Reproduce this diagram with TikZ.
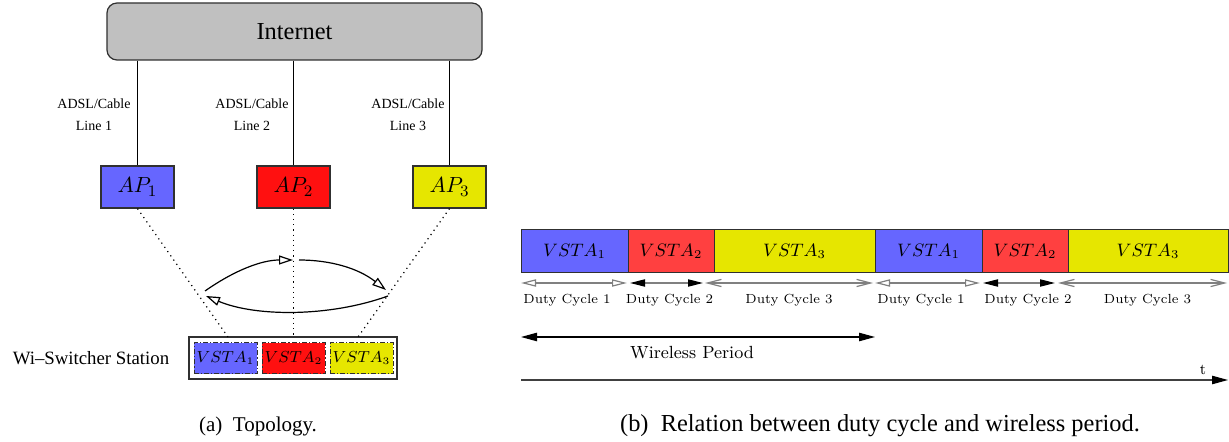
\documentclass[tikz,border=0pt]{standalone}
\usepackage{fontspec}
\newfontfamily\tms{Liberation Serif}
\usetikzlibrary{arrows.meta}
\definecolor{cblue}{HTML}{6666FF}
\definecolor{cred}{HTML}{FF1010}
\definecolor{credb}{HTML}{FF4040}
\definecolor{cyel}{HTML}{E6E600}
\definecolor{cgray}{HTML}{C0C0C0}
\definecolor{edge}{HTML}{303030}
\tikzset{
  otri/.tip={Triangle[open,length=7.5pt,width=3.6pt,fill=white]},
  ftri/.tip={Triangle[length=7.5pt,width=3.6pt,color=black]},
  barb/.tip={Straight Barb[length=7pt,width=3.6pt]},
  btri/.tip={Triangle[length=8pt,width=4.2pt,color=black]},
}
\begin{document}
\begin{tikzpicture}[x=0.5pt,y=-0.5pt,
  box/.style={draw=edge,line width=0.6pt,inner sep=0pt,minimum width=36.5pt,minimum height=21pt,font=\fontsize{11}{13}\selectfont},
  vbox/.style={draw=edge,line width=0.5pt,dash pattern=on 2.5pt off 1pt on 0.6pt off 1pt,inner sep=0pt,minimum width=31.5pt,minimum height=15.5pt,font=\fontsize{7.8}{9}\selectfont},
  seg/.style={draw=edge,line width=0.5pt,inner sep=0pt,outer sep=0pt,minimum height=21.5pt,font=\fontsize{9}{10}\selectfont},
  adsl/.style={align=center,font=\tms\fontsize{7}{11}\selectfont},
  duty/.style={font=\fontsize{6.6}{8}\selectfont\addfontfeatures{LetterSpace=8}},
  dline/.style={draw=gray,line width=0.6pt},
  arc/.style={line width=0.6pt,-{Triangle[open,length=7pt,width=4.5pt]}},
]
\useasboundingbox (0,0) rectangle (1229,442);

% Internet
\node[draw=edge,line width=0.6pt,fill=cgray,rounded corners=5pt,minimum width=187.5pt,minimum height=28.5pt,inner sep=0pt,font=\tms\fontsize{12.2}{14}\selectfont] (inet) at (294.5,31.5) {Internet};

% APs
\node[box,fill=cblue] (ap1) at (137.5,187) {$AP_1$};
\node[box,fill=cred]  (ap2) at (293.5,187) {$AP_2$};
\node[box,fill=cyel]  (ap3) at (449.5,187) {$AP_3$};

\draw[line width=0.6pt] (ap1.north |- inet.south) -- (ap1.north);
\draw[line width=0.6pt] (ap2.north |- inet.south) -- (ap2.north);
\draw[line width=0.6pt] (ap3.north |- inet.south) -- (ap3.north);

\node[adsl] (l1) at (94,115) {ADSL/Cable\\Line 1};
\node[adsl] (l2) at (252,115) {ADSL/Cable\\Line 2};
\node[adsl] (l3) at (408,115) {ADSL/Cable\\Line 3};

% Station
\node[draw=edge,line width=0.6pt,minimum width=104pt,minimum height=21pt,inner sep=0pt] (st) at (293,358) {};
\node[vbox,fill=cblue] (v1) at (225.5,358.5) {$VSTA_1$};
\node[vbox,fill=cred]  (v2) at (293.5,358.5) {$VSTA_2$};
\node[vbox,fill=cyel]  (v3) at (361.5,358.5) {$VSTA_3$};
\node[font=\tms\fontsize{9.4}{11}\selectfont] (stl) at (91,358) {Wi–Switcher Station};

\coordinate (s1) at (228,337);
\coordinate (s3) at (358,337);
\draw[dotted,line width=0.6pt] (ap1.south) -- (s1);
\draw[dotted,line width=0.6pt] (ap2.south) -- (ap2.south |- st.north);
\draw[dotted,line width=0.6pt] (ap3.south) -- (s3);

% arcs
\coordinate (a1) at (205,291);
\coordinate (a2) at (293,260);
\coordinate (a3) at (299,260);
\coordinate (a4) at (386,290);
\coordinate (a5) at (388,296);
\coordinate (a6) at (206,296);
\draw[arc] (a1) .. controls (235,270) and (262,260) .. (a2);
\draw[arc] (a3) .. controls (330,260) and (358,268) .. (a4);
\draw[arc] (a5) .. controls (330,317) and (256,317) .. (a6);

\node[font=\tms\fontsize{10.5}{12}\selectfont] (capa) at (258,426) {(a)\ \ Topology.};

% timeline bar
\node[seg,fill=cblue,minimum width=53.5pt,anchor=west] (b1) at (521,251.5) {$VSTA_1$};
\node[seg,fill=credb,minimum width=43pt,anchor=west] (b2) at (b1.east) {$VSTA_2$};
\node[seg,fill=cyel,minimum width=80.5pt,anchor=west] (b3) at (b2.east) {$VSTA_3$};
\node[seg,fill=cblue,minimum width=53.5pt,anchor=west] (b4) at (b3.east) {$VSTA_1$};
\node[seg,fill=credb,minimum width=43pt,anchor=west] (b5) at (b4.east) {$VSTA_2$};
\node[seg,fill=cyel,minimum width=80pt,anchor=west] (b6) at (b5.east) {$VSTA_3$};

% duty cycle arrows
\coordinate (d1a) at (521,283); \coordinate (d1b) at (627,283);
\coordinate (d2a) at (630,283); \coordinate (d2b) at (703,283);
\coordinate (d3a) at (705,283); \coordinate (d3b) at (873,283);
\coordinate (e1a) at (875,283); \coordinate (e1b) at (980,283);
\coordinate (e2a) at (983,283); \coordinate (e2b) at (1055,283);
\coordinate (e3a) at (1058,283); \coordinate (e3b) at (1227,283);
\begin{scope}[dline]
\draw[otri-otri] (d1a) -- (d1b);
\draw[ftri-ftri] (d2a) -- (d2b);
\draw[barb-barb] (d3a) -- (d3b);
\draw[otri-otri] (e1a) -- (e1b);
\draw[ftri-ftri] (e2a) -- (e2b);
\draw[barb-barb] (e3a) -- (e3b);
\end{scope}
\node[duty] (t1) at (567,300) {Duty Cycle 1};
\node[duty] (t2) at (669.5,300) {Duty Cycle 2};
\node[duty] (t3) at (789,300) {Duty Cycle 3};
\node[duty] (t4) at (921,300) {Duty Cycle 1};
\node[duty] (t5) at (1028,300) {Duty Cycle 2};
\node[duty] (t6) at (1147.5,300) {Duty Cycle 3};

% wireless period
\coordinate (w1) at (521,337); \coordinate (w2) at (875,337);
\draw[line width=0.6pt,btri-btri] (w1) -- (w2);
\node[font=\fontsize{8.8}{10}\selectfont\addfontfeatures{LetterSpace=2}] (wp) at (692,353) {Wireless Period};

% time axis
\coordinate (ta) at (521,380); \coordinate (tb) at (1228,380);
\draw[line width=0.6pt,draw=black!75,-btri] (ta) -- (tb);
\node[font=\fontsize{7.5}{8}\selectfont] (tl) at (1203,370) {t};

\node[font=\tms\fontsize{12.2}{14}\selectfont] (capb) at (880,426) {(b)\ \ Relation between duty cycle and wireless period.};
\end{tikzpicture}
\end{document}
